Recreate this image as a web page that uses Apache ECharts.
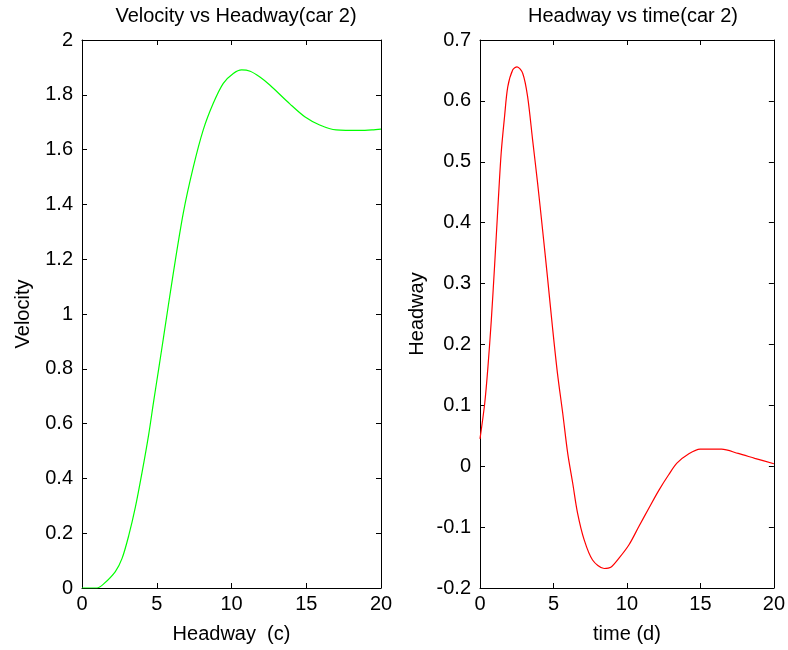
<!DOCTYPE html>
<html>
<head>
<meta charset="utf-8">
<script src="https://cdn.jsdelivr.net/npm/echarts@6/dist/echarts.min.js"></script>
<style>html,body{margin:0;padding:0;background:#fff}#c{width:788px;height:650px}</style>
</head>
<body>
<div id="c"></div>
<script>
// Left plot: Velocity vs Headway (car 2)
var headwayC = [0, 1.0, 1.45, 2.23, 2.68, 3.12, 3.57, 4.01, 4.46, 4.79, 5.13, 5.44, 6.11, 6.78, 7.44, 8.11, 8.78, 9.45, 10.12, 10.68, 11.25, 11.9, 12.58, 13.9, 14.9, 15.9, 17.0, 18.6, 19.4, 20];
var velocity = [0, 0, 0.015, 0.06, 0.108, 0.19, 0.295, 0.42, 0.56, 0.68, 0.80, 0.91, 1.15, 1.37, 1.535, 1.672, 1.769, 1.842, 1.878, 1.891, 1.886, 1.865, 1.835, 1.767, 1.72, 1.69, 1.672, 1.67, 1.672, 1.675];
// Right plot: Headway vs time (car 2)
var timeD = [0, 0.32, 0.54, 0.77, 0.99, 1.22, 1.44, 1.67, 1.89, 2.23, 2.52, 2.91, 3.24, 3.58, 3.92, 4.26, 4.59, 4.93, 5.27, 5.63, 5.97, 6.31, 6.64, 7.09, 7.66, 8.45, 8.9, 9.46, 10.14, 10.81, 11.49, 12.16, 12.84, 13.4, 14.19, 14.98, 16.44, 17.57, 18.7, 20];
var headwayD = [0.045, 0.103, 0.163, 0.24, 0.328, 0.426, 0.514, 0.574, 0.623, 0.651, 0.656, 0.645, 0.607, 0.536, 0.465, 0.388, 0.311, 0.229, 0.153, 0.087, 0.021, -0.028, -0.077, -0.121, -0.154, -0.168, -0.166, -0.151, -0.129, -0.099, -0.069, -0.040, -0.014, 0.005, 0.020, 0.028, 0.028, 0.021, 0.013, 0.004];

function pairs(xs, ys) { return xs.map(function (x, i) { return [x, ys[i]]; }); }
var FONT = 'Liberation Sans, Arial, sans-serif';
var FS = 20;
function fmt(v) { return String(Math.round(v * 10) / 10); }

function mainX(gi, name) {
  return {
    type: 'value', gridIndex: gi, min: 0, max: 20, interval: 5, position: 'bottom',
    name: name, nameLocation: 'middle', nameGap: 36,
    nameTextStyle: { color: '#000', fontSize: FS, fontFamily: FONT },
    axisLine: { onZero: false, lineStyle: { color: '#000', width: 1 } },
    axisTick: { inside: true, length: 5, lineStyle: { color: '#000' } },
    axisLabel: { color: '#000', fontSize: FS, fontFamily: FONT, margin: 6 },
    splitLine: { show: false }
  };
}
function topX(gi) {
  return {
    type: 'value', gridIndex: gi, min: 0, max: 20, interval: 5, position: 'top',
    axisLine: { onZero: false, lineStyle: { color: '#000', width: 1 } },
    axisTick: { inside: true, length: 5, lineStyle: { color: '#000' } },
    axisLabel: { show: false }, splitLine: { show: false }
  };
}
function mainY(gi, name, min, max, step, gap) {
  return {
    type: 'value', gridIndex: gi, min: min, max: max, interval: step, position: 'left',
    name: name, nameLocation: 'middle', nameGap: gap, nameRotate: 90,
    nameTextStyle: { color: '#000', fontSize: FS, fontFamily: FONT },
    axisLine: { onZero: false, lineStyle: { color: '#000', width: 1 } },
    axisTick: { inside: true, length: 5, lineStyle: { color: '#000' } },
    axisLabel: { color: '#000', fontSize: FS, fontFamily: FONT, margin: 9, formatter: fmt },
    splitLine: { show: false }
  };
}
function rightY(gi, min, max, step) {
  return {
    type: 'value', gridIndex: gi, min: min, max: max, interval: step, position: 'right',
    axisLine: { onZero: false, lineStyle: { color: '#000', width: 1 } },
    axisTick: { inside: true, length: 5, lineStyle: { color: '#000' } },
    axisLabel: { show: false }, splitLine: { show: false }
  };
}

var chart = echarts.init(document.getElementById('c'), null, { renderer: 'canvas' });
chart.setOption({
  backgroundColor: '#fff',
  animation: false,
  title: [
    { text: 'Velocity vs Headway(car 2)', left: 231, top: 1, textAlign: 'center',
      textStyle: { color: '#000', fontSize: FS, fontWeight: 'normal', fontFamily: FONT } },
    { text: 'Headway vs time(car 2)', left: 628, top: 1, textAlign: 'center',
      textStyle: { color: '#000', fontSize: FS, fontWeight: 'normal', fontFamily: FONT } }
  ],
  grid: [
    { left: 82, right: 407, top: 40, bottom: 62 },
    { left: 480, right: 12, top: 40, bottom: 62 }
  ],
  xAxis: [mainX(0, 'Headway  (c)'), topX(0), mainX(1, 'time (d)'), topX(1)],
  yAxis: [mainY(0, 'Velocity', 0, 2, 0.2, 49), rightY(0, 0, 2, 0.2),
          mainY(1, 'Headway', -0.2, 0.7, 0.1, 53), rightY(1, -0.2, 0.7, 0.1)],
  series: [
    { type: 'line', xAxisIndex: 0, yAxisIndex: 0, data: pairs(headwayC, velocity), smooth: 0.3,
      showSymbol: false, lineStyle: { color: '#00ff00', width: 1.2 } },
    { type: 'line', xAxisIndex: 2, yAxisIndex: 2, data: pairs(timeD, headwayD), smooth: 0.3,
      showSymbol: false, lineStyle: { color: '#ff0000', width: 1.2 } }
  ]
});
</script>
</body>
</html>
